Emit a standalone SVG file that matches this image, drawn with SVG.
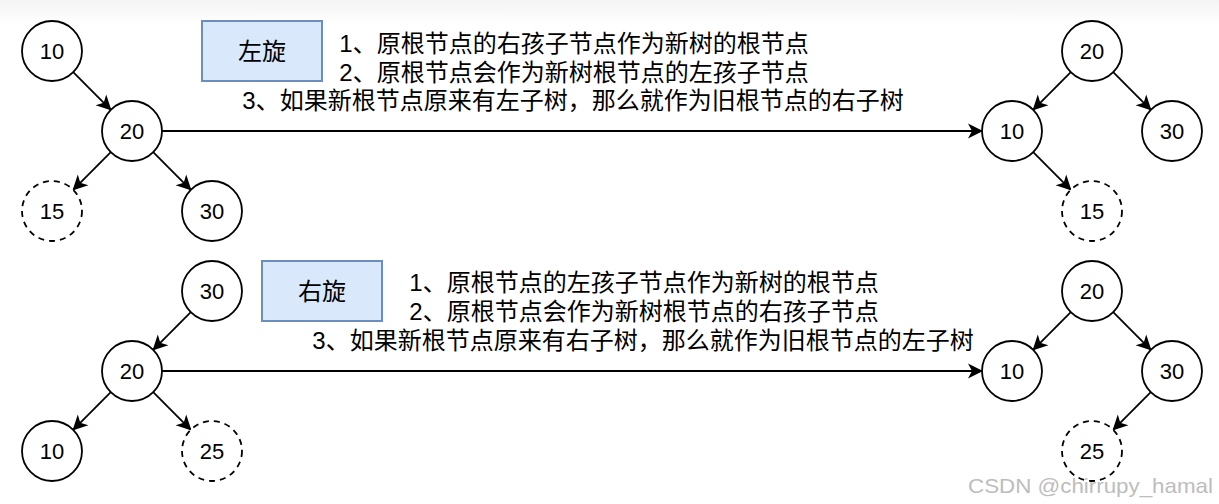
<svg xmlns="http://www.w3.org/2000/svg" width="1219" height="504" viewBox="0 0 1219 504">
<defs>
  <linearGradient id="topfade" x1="0" y1="0" x2="0" y2="1">
    <stop offset="0" stop-color="#f4f4f4"/>
    <stop offset="1" stop-color="#ffffff"/>
  </linearGradient>
  <marker id="arr" markerUnits="userSpaceOnUse" markerWidth="16" markerHeight="16" refX="14" refY="8" orient="auto">
    <path d="M0,0.5 L15,8 L0,15.5 L4,8 Z" fill="#000"/>
  </marker>
  <style>
    .n circle { fill: #fff; stroke: #000; stroke-width: 1.8; }
    .n.d circle { stroke-dasharray: 6 5; }
    .n text { font-family: "Liberation Sans", Arial, sans-serif; font-size: 22px; text-anchor: middle; fill: #000; }
    .box rect { fill: #dae8fc; stroke: #6c8ebf; stroke-width: 2; }
    .box text { font-family: "Liberation Sans", "Noto Sans CJK SC", sans-serif; font-size: 24px; text-anchor: middle; fill: #000; }
    .t { font-family: "Liberation Sans", "Noto Sans CJK SC", sans-serif; font-size: 24px; text-anchor: middle; fill: #000; }
    .e line { stroke: #000; stroke-width: 1.8; marker-end: url(#arr); }
    .wm { font-family: "Liberation Sans", Arial, sans-serif; font-size: 21px; fill: #bdbdbd; text-anchor: end; }
  </style>
</defs>
<rect x="0" y="0" width="1219" height="504" fill="#fff"/>
<rect x="0" y="0" width="1219" height="24" fill="url(#topfade)"/>

<g id="connectors" class="e">
  <line x1="73.2" y1="72.2" x2="110.8" y2="109.8"/>
  <line x1="110.8" y1="152.2" x2="73.2" y2="189.8"/>
  <line x1="153.2" y1="152.2" x2="190.8" y2="189.8"/>
  <line x1="162" y1="131" x2="982" y2="131"/>
  <line x1="1070.8" y1="72.2" x2="1033.2" y2="109.8"/>
  <line x1="1113.2" y1="72.2" x2="1150.8" y2="109.8"/>
  <line x1="1033.2" y1="152.2" x2="1070.8" y2="189.8"/>

  <line x1="190.8" y1="312.2" x2="153.2" y2="349.8"/>
  <line x1="110.8" y1="392.2" x2="73.2" y2="429.8"/>
  <line x1="153.2" y1="392.2" x2="190.8" y2="429.8"/>
  <line x1="162" y1="371" x2="982" y2="371"/>
  <line x1="1070.8" y1="312.2" x2="1033.2" y2="349.8"/>
  <line x1="1113.2" y1="312.2" x2="1150.8" y2="349.8"/>
  <line x1="1150.8" y1="392.2" x2="1113.2" y2="429.8"/>
</g>

<!-- top left tree -->
<g id="tl-10" class="n"><circle cx="52" cy="51" r="30"/><text x="52" y="59">10</text></g>
<g id="tl-20" class="n"><circle cx="132" cy="131" r="30"/><text x="132" y="139">20</text></g>
<g id="tl-15" class="n d"><circle cx="52" cy="211" r="30"/><text x="52" y="219">15</text></g>
<g id="tl-30" class="n"><circle cx="212" cy="211" r="30"/><text x="212" y="219">30</text></g>

<!-- top right tree -->
<g id="tr-20" class="n"><circle cx="1092" cy="51" r="30"/><text x="1092" y="59">20</text></g>
<g id="tr-10" class="n"><circle cx="1012" cy="131" r="30"/><text x="1012" y="139">10</text></g>
<g id="tr-30" class="n"><circle cx="1172" cy="131" r="30"/><text x="1172" y="139">30</text></g>
<g id="tr-15" class="n d"><circle cx="1092" cy="211" r="30"/><text x="1092" y="219">15</text></g>

<g id="box-left" class="box"><rect x="202" y="21" width="120" height="60"/><text x="262" y="60">左旋</text></g>
<g id="text-left">
  <text class="t" x="574" y="52">1、原根节点的右孩子节点作为新树的根节点</text>
  <text class="t" x="574" y="81">2、原根节点会作为新树根节点的左孩子节点</text>
  <text class="t" x="573" y="109">3、如果新根节点原来有左子树，那么就作为旧根节点的右子树</text>
</g>

<!-- bottom left tree -->
<g id="bl-30" class="n"><circle cx="212" cy="291" r="30"/><text x="212" y="299">30</text></g>
<g id="bl-20" class="n"><circle cx="132" cy="371" r="30"/><text x="132" y="379">20</text></g>
<g id="bl-10" class="n"><circle cx="52" cy="451" r="30"/><text x="52" y="459">10</text></g>
<g id="bl-25" class="n d"><circle cx="212" cy="451" r="30"/><text x="212" y="459">25</text></g>

<!-- bottom right tree -->
<g id="br-20" class="n"><circle cx="1092" cy="291" r="30"/><text x="1092" y="299">20</text></g>
<g id="br-10" class="n"><circle cx="1012" cy="371" r="30"/><text x="1012" y="379">10</text></g>
<g id="br-30" class="n"><circle cx="1172" cy="371" r="30"/><text x="1172" y="379">30</text></g>
<g id="br-25" class="n d"><circle cx="1092" cy="451" r="30"/><text x="1092" y="459">25</text></g>

<g id="box-right" class="box"><rect x="262" y="261" width="120" height="60"/><text x="322" y="300">右旋</text></g>
<g id="text-right">
  <text class="t" x="644" y="291">1、原根节点的左孩子节点作为新树的根节点</text>
  <text class="t" x="644" y="320">2、原根节点会作为新树根节点的右孩子节点</text>
  <text class="t" x="643" y="349">3、如果新根节点原来有右子树，那么就作为旧根节点的左子树</text>
</g>

<text class="wm" x="1213" y="493" textLength="245" lengthAdjust="spacingAndGlyphs">CSDN @chirrupy_hamal</text>
</svg>
